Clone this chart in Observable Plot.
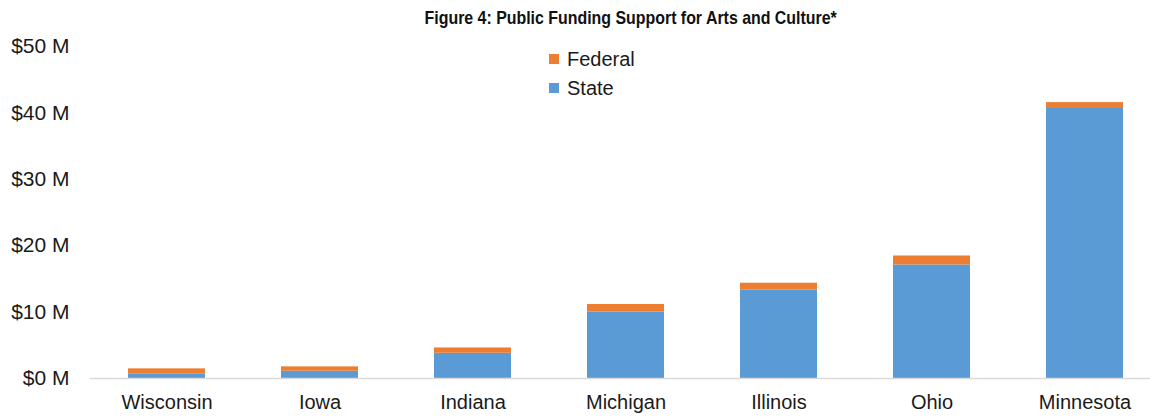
<!DOCTYPE html>
<html>
<head>
<meta charset="utf-8">
<script src="https://cdn.jsdelivr.net/npm/d3@7"></script>
<script src="https://cdn.jsdelivr.net/npm/@observablehq/plot@0.6"></script>
<style>
  body { margin: 0; background: #fff; font-family: "Liberation Sans", Arial, sans-serif; }
  #wrap { position: relative; width: 1150px; height: 417px; overflow: hidden; }
  #title { height: 34px; line-height: 36px; text-align: center; font-family: "Liberation Sans", Arial, sans-serif; font-weight: bold; font-size: 18.5px; color: #111; padding-left: 112px; box-sizing: border-box; }
  #title span { display: inline-block; transform: scaleX(0.86); }
  #legend { position: absolute; left: 549px; top: 44px; font-size: 20px; color: #1a1a1a; }
  #legend div { height: 29px; line-height: 28px; display: flex; align-items: center; }
  #legend span.sw { display: inline-block; width: 10px; height: 10px; margin-right: 8px; }
</style>
</head>
<body>
<div id="wrap">
  <div id="title"><span>Figure 4: Public Funding Support for Arts and Culture*</span></div>
  <div id="legend"></div>
  <div id="chart"></div>
</div>
<script>
const states = ["Wisconsin", "Iowa", "Indiana", "Michigan", "Illinois", "Ohio", "Minnesota"];
const stateFunding = [0.7, 1.1, 3.8, 10.0, 13.3, 17.1, 40.8];
const federalFunding = [0.75, 0.65, 0.8, 1.15, 1.05, 1.35, 0.75];
const seriesNames = ["State", "Federal"];
const seriesColors = ["#5B9BD5", "#ED7D31"];
const yTicks = [0, 10, 20, 30, 40, 50];

const data = [];
states.forEach((s, i) => {
  data.push({state: s, series: "State", value: stateFunding[i]});
  data.push({state: s, series: "Federal", value: federalFunding[i]});
});

const legend = document.getElementById("legend");
["Federal", "State"].forEach(name => {
  const d = document.createElement("div");
  d.innerHTML = `<span class="sw" style="background:${seriesColors[seriesNames.indexOf(name)]}"></span>${name}`;
  legend.appendChild(d);
});

const chart = Plot.plot({
  width: 1150,
  height: 383,
  marginTop: 12,
  marginBottom: 39,
  marginLeft: 90,
  marginRight: 0,
  style: { fontFamily: "'Liberation Sans', Arial, sans-serif", color: "#1a1a1a" },
  x: { domain: states, range: [89.5, 1160.5], paddingInner: 0.5, paddingOuter: 0.25, label: null },
  y: { domain: [0, 50], ticks: yTicks, label: null },
  color: { domain: seriesNames, range: seriesColors },
  marks: [
    Plot.barY(data, Plot.stackY({ x: "state", y: "value", fill: "series", order: seriesNames })),
    Plot.ruleY([0], { stroke: "#d9d9d9", strokeWidth: 1.5 }),
    Plot.axisY({ ticks: yTicks, tickSize: 0, tickPadding: 21, fontSize: 21, tickFormat: d => `$${d} M`, label: null }),
    Plot.axisX({ tickSize: 0, tickPadding: 16, fontSize: 20, label: null })
  ]
});
document.getElementById("chart").appendChild(chart);
</script>
</body>
</html>
